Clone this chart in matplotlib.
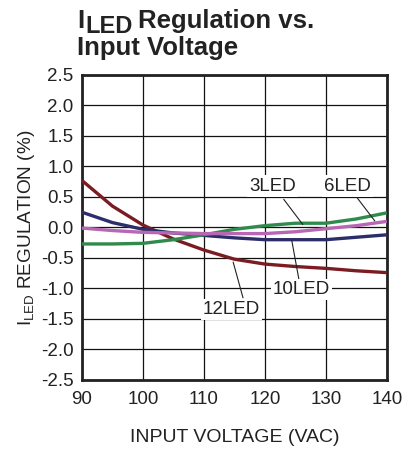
import matplotlib
matplotlib.use("Agg")
import matplotlib.pyplot as plt
import numpy as np

plt.rcParams['font.family'] = ['Liberation Sans', 'DejaVu Sans']

vin = [90, 95, 100, 105, 110, 115, 120, 125, 130, 135, 140]
led12 = [0.77, 0.35, 0.04, -0.19, -0.37, -0.52, -0.60, -0.64, -0.67, -0.71, -0.74]
led10 = [0.25, 0.08, -0.03, -0.09, -0.13, -0.17, -0.20, -0.20, -0.20, -0.16, -0.12]
led6 = [-0.01, -0.05, -0.08, -0.09, -0.10, -0.10, -0.10, -0.07, -0.02, 0.03, 0.10]
led3 = [-0.27, -0.27, -0.26, -0.20, -0.12, -0.03, 0.03, 0.07, 0.07, 0.14, 0.24]

xticks = [90, 100, 110, 120, 130, 140]
yticks = [2.5, 2.0, 1.5, 1.0, 0.5, 0.0, -0.5, -1.0, -1.5, -2.0, -2.5]

fig = plt.figure(figsize=(4.12, 4.49), dpi=100)
ax = fig.add_axes([0.199, 0.1537, 0.740, 0.6793])

c12 = '#7a1c22'
c10 = '#2c2e6a'
c6 = '#b767b3'
c3 = '#2f8a4c'
lw = 2.4
ax.plot(vin, led12, color=c12, lw=lw, zorder=3, solid_capstyle='butt')
ax.plot(vin, led10, color=c10, lw=lw, zorder=3, solid_capstyle='butt')
ax.plot(vin, led3, color=c3, lw=lw, zorder=3, solid_capstyle='butt')
ax.plot(vin, led6, color=c6, lw=lw, zorder=4, solid_capstyle='butt')

ax.set_xlim(90, 140)
ax.set_ylim(-2.5, 2.5)
ax.set_xticks(xticks)
ax.set_yticks(yticks)
ax.set_xticklabels([str(v) for v in xticks])
ax.set_yticklabels([f"{v:.1f}" for v in yticks])
ax.grid(True, color='#111111', lw=0.9)
ax.set_axisbelow(True)
ax.tick_params(length=0, labelsize=13.5, colors='#222222')
ax.tick_params(axis='x', pad=8)
ax.tick_params(axis='y', pad=6)
for s in ax.spines.values():
    s.set_linewidth(2.0)
    s.set_color('#222222')

bbox = dict(facecolor='white', edgecolor='none', pad=1.5)
fs = 13.5
# labels and leaders
ax.plot([123.1, 126.2], [0.46, 0.05], color='#222222', lw=0.8, zorder=5)
ax.text(121.3, 0.68, '3LED', fontsize=fs, ha='center', va='center', bbox=bbox, zorder=6, color='#222222')
ax.plot([135.1, 138.0], [0.49, 0.11], color='#222222', lw=0.8, zorder=5)
ax.text(133.6, 0.68, '6LED', fontsize=fs, ha='center', va='center', bbox=bbox, zorder=6, color='#222222')
ax.plot([125.7, 124.4], [-0.92, -0.21], color='#222222', lw=0.8, zorder=5)
ax.text(126.0, -1.02, '10LED', fontsize=fs, ha='center', va='center', bbox=bbox, zorder=6, color='#222222')
ax.plot([116.4, 114.8], [-1.15, -0.57], color='#222222', lw=0.8, zorder=5)
ax.text(114.5, -1.35, '12LED', fontsize=fs, ha='center', va='center', bbox=bbox, zorder=6, color='#222222')

ax.set_xlabel('INPUT VOLTAGE (VAC)', fontsize=14, labelpad=15, color='#222222')
ax.set_ylabel(r'I$_{\mathregular{LED}}$ REGULATION (%)', fontsize=13.7, labelpad=3, color='#222222')

# title
tc = '#222222'
fig.text(0.187, 1 - 28 / 449, 'I', fontsize=18.5, fontweight='bold', ha='left', va='baseline', color=tc)
fig.text(0.208, 1 - 33 / 449, 'LED', fontsize=17, fontweight='bold', ha='left', va='baseline', color=tc)
fig.text(0.335, 1 - 28 / 449, 'Regulation vs.', fontsize=18.5, fontweight='bold', ha='left', va='baseline', color=tc)
fig.text(0.187, 1 - 55 / 449, 'Input Voltage', fontsize=18.5, fontweight='bold', ha='left', va='baseline', color=tc)

fig.savefig('out.png', dpi=100)
